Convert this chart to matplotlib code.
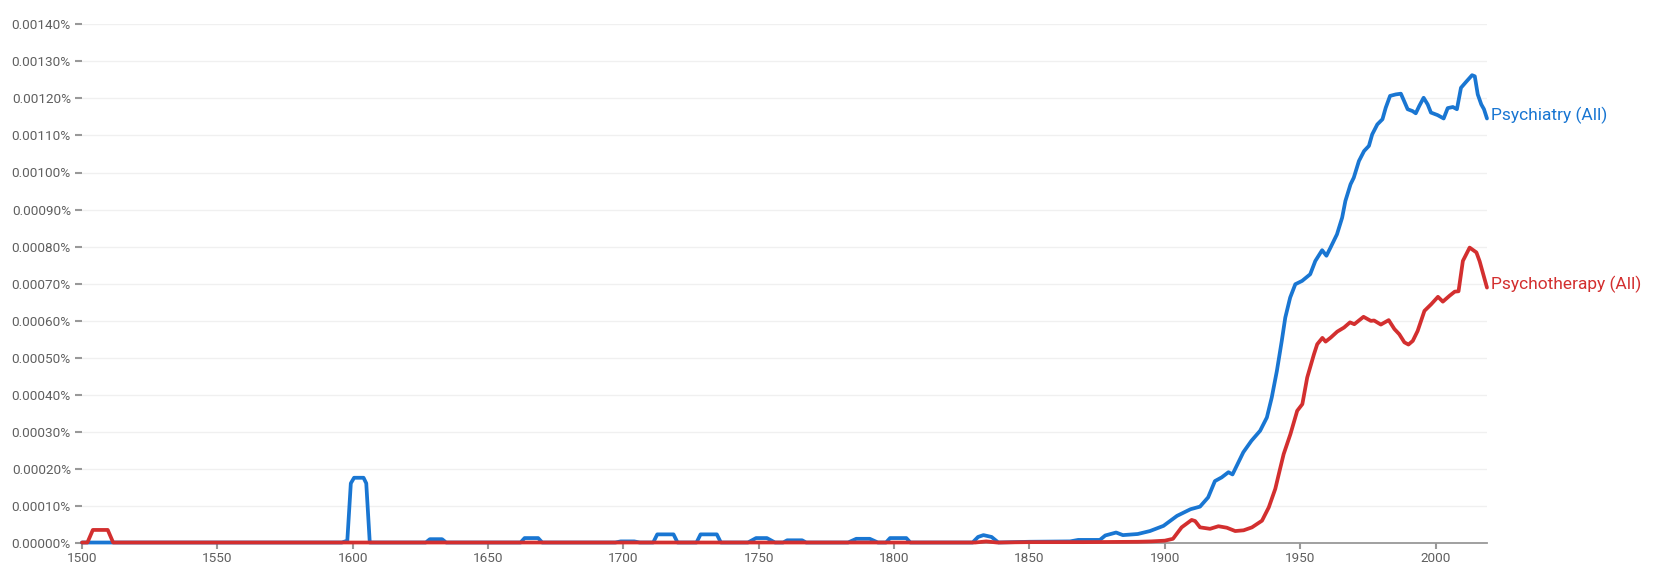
import numpy as np
import matplotlib.pyplot as plt
from matplotlib.ticker import FuncFormatter, MultipleLocator

plt.rcParams['font.family'] = ['Roboto', 'DejaVu Sans']

# Psychiatry (All) - year / frequency in percent
psy_years = [1500, 1596, 1598, 1599.3, 1600.5, 1604, 1605, 1606.3,
             1627, 1628.5, 1633, 1634.5, 1662, 1663.5, 1668.5, 1670,
             1697, 1699, 1704, 1706, 1711, 1712.5, 1718.5, 1720,
             1727, 1728.5, 1734.5, 1736, 1746, 1749, 1753, 1756,
             1759, 1760.5, 1766, 1767.5, 1783, 1786, 1791, 1794,
             1797, 1798.5, 1804.5, 1806, 1829, 1831, 1833, 1836, 1838.5,
             1850, 1865, 1868, 1876, 1878, 1882, 1884.5, 1890, 1894.5,
             1899.5, 1904.5, 1909.5, 1913, 1916, 1918.5, 1921, 1923.5,
             1925, 1926.6, 1929, 1932, 1935.2, 1937.7, 1939.5, 1941.4,
             1943.2, 1944.5, 1946.3, 1948.2, 1950.7, 1953.7, 1955.6,
             1958.1, 1959.7, 1961.2, 1963.6, 1965.5, 1966.7, 1968.6,
             1969.8, 1971.7, 1973.6, 1975.4, 1976.6, 1978.5, 1980.4,
             1981.6, 1983.2, 1985.3, 1987.2, 1988.4, 1989.7, 1991.5,
             1992.7, 1994, 1995.6, 1997.1, 1998.3, 2000.8, 2003, 2004.5,
             2006.4, 2007.9, 2009.4, 2011.3, 2013.5, 2014.5, 2015.6,
             2016.9, 2017.9, 2019]
psy_vals = [0, 0, 0.000005, 0.00016, 0.000175, 0.000175, 0.00016, 0,
            0, 0.000009, 0.000009, 0, 0, 0.000012, 0.000012, 0,
            0, 0.000003, 0.000003, 0, 0, 0.000022, 0.000022, 0,
            0, 0.000022, 0.000022, 0, 0, 0.000012, 0.000012, 0,
            0, 0.000006, 0.000006, 0, 0, 0.00001, 0.00001, 0,
            0, 0.000012, 0.000012, 0, 0, 0.000015, 0.00002, 0.000015, 0,
            0.000002, 0.000003, 0.000007, 0.000007, 0.000019, 0.000027,
            0.00002, 0.000023, 0.000031,
            0.000045, 0.000072, 0.00009, 0.000097, 0.000122, 0.000166,
            0.000176, 0.00019,
            0.000184, 0.000208, 0.000244, 0.000275, 0.000302, 0.000338,
            0.000392, 0.000464,
            0.000545, 0.000608, 0.000662, 0.000698, 0.000707, 0.000725,
            0.000761,
            0.00079, 0.000775, 0.000797, 0.000833, 0.000878, 0.000923,
            0.000968,
            0.000986, 0.001031, 0.001058, 0.001072, 0.001103, 0.00113,
            0.001144,
            0.001175, 0.001207, 0.001211, 0.001213, 0.001193, 0.001171,
            0.001166,
            0.00116, 0.00118, 0.001202, 0.001184, 0.001162, 0.001155,
            0.001146, 0.001174,
            0.001177, 0.001171, 0.001229, 0.001245, 0.001263, 0.00126,
            0.001211,
            0.001184, 0.001171, 0.001146]

# Psychotherapy (All)
pst_years = [1500, 1502, 1504, 1509.5, 1511.5, 1830, 1834, 1838,
             1850, 1870, 1890, 1895, 1900, 1903, 1906.2, 1909.9, 1911.2,
             1913, 1916.7, 1919.8, 1922.9, 1926, 1929.1, 1932.2, 1935.9,
             1938.4, 1940.8, 1942.7, 1943.9, 1946.4, 1948.9, 1950.8,
             1952.6, 1955.1, 1956.3, 1958.2, 1959.4, 1961.3, 1963.7,
             1966.2, 1968.4, 1970, 1973.4, 1976.1, 1977.3, 1979.8,
             1982.7, 1984.8, 1986.6, 1988.5, 1990, 1991.6, 1993.4,
             1995.9, 1998.4, 2000.9, 2002.7, 2005.2, 2007.1, 2008.5,
             2010.1, 2012.6, 2015.1, 2016.3, 2019]
pst_vals = [0, 0, 0.000034, 0.000034, 0, 0, 0.000003, 0,
            0.000001, 0.000001, 0.000002, 0.000003, 0.000005, 0.00001,
            0.000041, 0.000061, 0.000058,
            0.000041, 0.000037, 0.000044, 0.00004, 0.000031, 0.000033,
            0.000041, 0.000059,
            0.000095, 0.000145, 0.000203, 0.000239, 0.000293, 0.000356,
            0.000374,
            0.000446, 0.000509, 0.000536, 0.000553, 0.000543, 0.000554,
            0.00057,
            0.000581, 0.000595, 0.00059, 0.00061, 0.000599, 0.0006,
            0.000589,
            0.000601, 0.000577, 0.000563, 0.000541, 0.000535, 0.000545,
            0.000572,
            0.000626, 0.000644, 0.000664, 0.000651, 0.000667, 0.000678,
            0.000679,
            0.000761, 0.000797, 0.000784, 0.00076, 0.000689]

labels = ['Psychiatry (All)', 'Psychotherapy (All)']
colors = ['#1976d2', '#d32f2f']

fig = plt.figure(figsize=(16.67, 5.75), dpi=100)
ax = fig.add_axes([0.0492, 0.0565, 0.8428, 0.9009])

for yrs, vals, lab, col in [(psy_years, psy_vals, labels[0], colors[0]),
                            (pst_years, pst_vals, labels[1], colors[1])]:
    ax.plot(yrs, vals, color=col, lw=2.7, solid_joinstyle='round',
            solid_capstyle='round', clip_on=False, zorder=3)
    ax.annotate(lab, (yrs[-1], vals[-1]), xytext=(3, 2), textcoords='offset points',
                color=col, fontsize=12.5, va='center', ha='left',
                annotation_clip=False)

ax.set_xlim(1500, 2019)
ax.set_ylim(0, 0.0014)
ax.xaxis.set_major_locator(MultipleLocator(50))
ax.yaxis.set_major_locator(MultipleLocator(0.0001))
ax.yaxis.set_major_formatter(FuncFormatter(lambda v, p: f'{v:.5f}%'))

ax.grid(axis='y', color='#f0f0f0', lw=1, zorder=0)
for s in ['top', 'right', 'left']:
    ax.spines[s].set_visible(False)
ax.spines['bottom'].set_color('#999999')
ax.spines['bottom'].set_linewidth(1.3)

ax.tick_params(axis='y', length=5, width=1.5, color='#999999', pad=3,
               labelsize=9.7, labelcolor='#5f5f5f')
ax.tick_params(axis='x', length=4, width=1.5, color='#999999', pad=3,
               labelsize=9.7, labelcolor='#5f5f5f')

fig.savefig('out.png', dpi=100)
